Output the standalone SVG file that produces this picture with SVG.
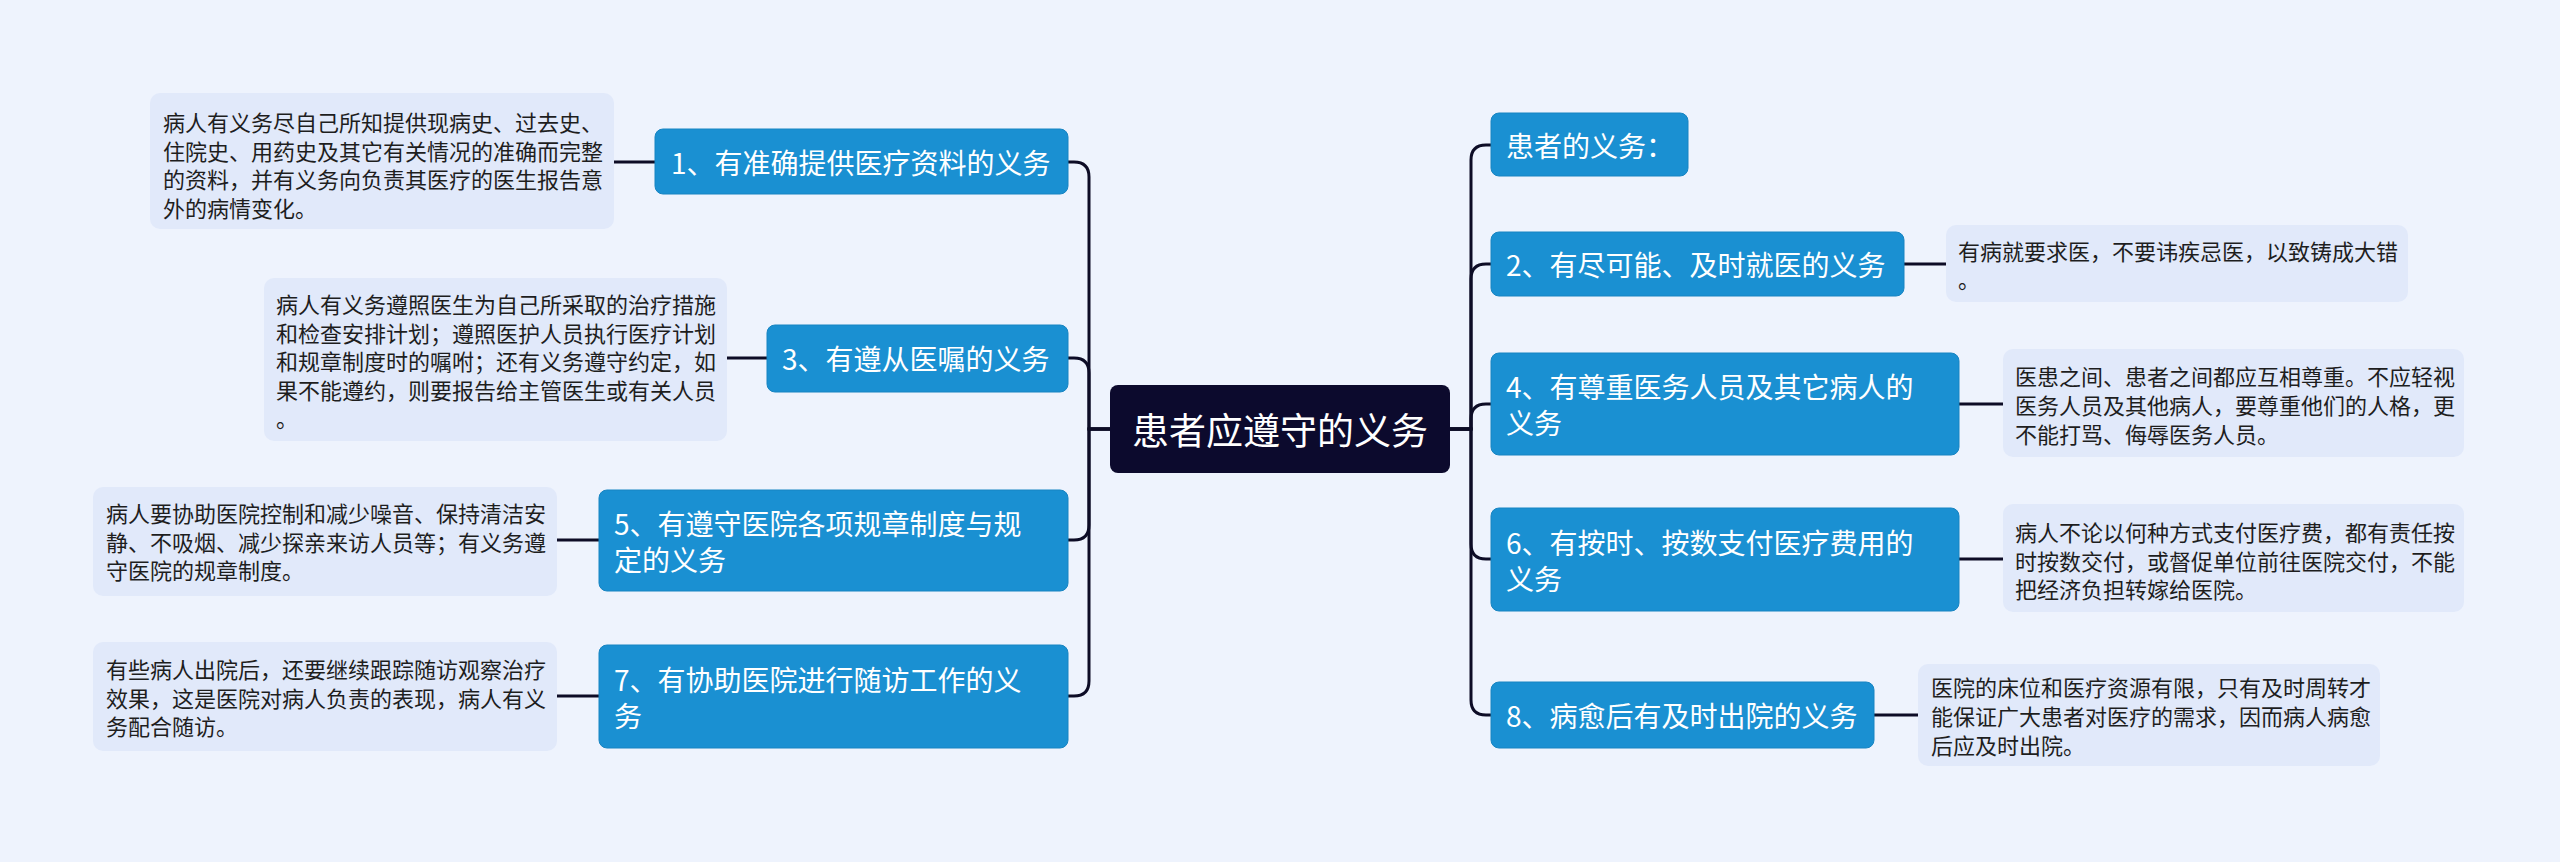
<svg xmlns="http://www.w3.org/2000/svg" width="2560" height="862" viewBox="0 0 2560 862">
<style>
.bg{fill:#eef3fd}
.node rect{fill:#1a90d2;stroke:#1784c2;stroke-width:1}
.node text{fill:#ffffff;font-family:"Microsoft YaHei","Noto Sans CJK SC",sans-serif;font-size:28px;dominant-baseline:central}
.root rect{fill:#0c0a2d}
.root text{fill:#ffffff;font-family:"Noto Sans CJK SC",sans-serif;font-size:37px;dominant-baseline:central;text-anchor:middle}
.detail rect{fill:#e1e9fa}
.detail text{fill:#1e1e1e;font-family:"Noto Sans CJK SC",sans-serif;font-size:22px;dominant-baseline:central}
.conn path{fill:none;stroke:#0d0c26;stroke-width:3;stroke-linecap:round}
</style>
<rect class="bg" x="0" y="0" width="2560" height="862"/>
<g id="connectors" class="conn">
<path d="M1110,429 H1089 V177 Q1089,162 1074,162 H1068"/>
<path d="M1110,429 H1089 V373 Q1089,358 1074,358 H1068"/>
<path d="M1110,429 H1089 V525 Q1089,540 1074,540 H1068"/>
<path d="M1110,429 H1089 V681 Q1089,696 1074,696 H1068"/>
<path d="M1450,429 H1471 V160 Q1471,145 1486,145 H1491"/>
<path d="M1450,429 H1471 V279 Q1471,264 1486,264 H1491"/>
<path d="M1450,429 H1471 V419 Q1471,404 1486,404 H1491"/>
<path d="M1450,429 H1471 V544 Q1471,559 1486,559 H1491"/>
<path d="M1450,429 H1471 V700 Q1471,715 1486,715 H1491"/>
<path d="M614,162 H655"/>
<path d="M727,358 H767"/>
<path d="M557,540 H599"/>
<path d="M557,696 H599"/>
<path d="M1904,264 H1946"/>
<path d="M1959,404 H2003"/>
<path d="M1959,559 H2003"/>
<path d="M1874,715 H1918"/>
</g>
<g id="root" class="root">
<rect x="1110" y="385" width="340" height="88" rx="8"/>
<text x="1280" y="429">患者应遵守的义务</text>
</g>
<g id="n1" class="node">
<rect x="655" y="129" width="413" height="65" rx="8"/>
<text x="671" y="162">1、有准确提供医疗资料的义务</text>
</g>
<g id="d1" class="detail">
<rect x="150" y="93" width="464" height="136" rx="10"/>
<text x="163" y="121">病人有义务尽自己所知提供现病史、过去史、</text>
<text x="163" y="150">住院史、用药史及其它有关情况的准确而完整</text>
<text x="163" y="178">的资料，并有义务向负责其医疗的医生报告意</text>
<text x="163" y="207">外的病情变化。</text>
</g>
<g id="n3" class="node">
<rect x="767" y="325" width="301" height="67" rx="8"/>
<text x="782" y="358">3、有遵从医嘱的义务</text>
</g>
<g id="d3" class="detail">
<rect x="264" y="278" width="463" height="163" rx="10"/>
<text x="276" y="303">病人有义务遵照医生为自己所采取的治疗措施</text>
<text x="276" y="331.5">和检查安排计划；遵照医护人员执行医疗计划</text>
<text x="276" y="360">和规章制度时的嘱咐；还有义务遵守约定，如</text>
<text x="276" y="388.5">果不能遵约，则要报告给主管医生或有关人员</text>
<text x="276" y="417">。</text>
</g>
<g id="n5" class="node">
<rect x="599" y="490" width="469" height="101" rx="8"/>
<text x="614" y="522.5">5、有遵守医院各项规章制度与规</text>
<text x="614" y="558.5">定的义务</text>
</g>
<g id="d5" class="detail">
<rect x="93" y="487" width="464" height="109" rx="10"/>
<text x="106" y="512">病人要协助医院控制和减少噪音、保持清洁安</text>
<text x="106" y="540.5">静、不吸烟、减少探亲来访人员等；有义务遵</text>
<text x="106" y="569">守医院的规章制度。</text>
</g>
<g id="n7" class="node">
<rect x="599" y="645" width="469" height="103" rx="8"/>
<text x="614" y="678.5">7、有协助医院进行随访工作的义</text>
<text x="614" y="714.5">务</text>
</g>
<g id="d7" class="detail">
<rect x="93" y="642" width="464" height="109" rx="10"/>
<text x="106" y="668">有些病人出院后，还要继续跟踪随访观察治疗</text>
<text x="106" y="696.5">效果，这是医院对病人负责的表现，病人有义</text>
<text x="106" y="725">务配合随访。</text>
</g>
<g id="n0" class="node">
<rect x="1491" y="113" width="197" height="63" rx="8"/>
<text x="1506" y="144.5">患者的义务：</text>
</g>
<g id="n2" class="node">
<rect x="1491" y="232" width="413" height="64" rx="8"/>
<text x="1506" y="264">2、有尽可能、及时就医的义务</text>
</g>
<g id="d2" class="detail">
<rect x="1946" y="225" width="462" height="77" rx="10"/>
<text x="1958" y="250">有病就要求医，不要讳疾忌医，以致铸成大错</text>
<text x="1958" y="278">。</text>
</g>
<g id="n4" class="node">
<rect x="1491" y="353" width="468" height="102" rx="8"/>
<text x="1506" y="386">4、有尊重医务人员及其它病人的</text>
<text x="1506" y="422">义务</text>
</g>
<g id="d4" class="detail">
<rect x="2003" y="349" width="461" height="108" rx="10"/>
<text x="2015" y="375">医患之间、患者之间都应互相尊重。不应轻视</text>
<text x="2015" y="404">医务人员及其他病人，要尊重他们的人格，更</text>
<text x="2015" y="433">不能打骂、侮辱医务人员。</text>
</g>
<g id="n6" class="node">
<rect x="1491" y="508" width="468" height="103" rx="8"/>
<text x="1506" y="541.5">6、有按时、按数支付医疗费用的</text>
<text x="1506" y="577.5">义务</text>
</g>
<g id="d6" class="detail">
<rect x="2003" y="504" width="461" height="108" rx="10"/>
<text x="2015" y="531">病人不论以何种方式支付医疗费，都有责任按</text>
<text x="2015" y="559.5">时按数交付，或督促单位前往医院交付，不能</text>
<text x="2015" y="588">把经济负担转嫁给医院。</text>
</g>
<g id="n8" class="node">
<rect x="1491" y="682" width="383" height="66" rx="8"/>
<text x="1506" y="715">8、病愈后有及时出院的义务</text>
</g>
<g id="d8" class="detail">
<rect x="1918" y="664" width="462" height="102" rx="10"/>
<text x="1931" y="686">医院的床位和医疗资源有限，只有及时周转才</text>
<text x="1931" y="715">能保证广大患者对医疗的需求，因而病人病愈</text>
<text x="1931" y="744">后应及时出院。</text>
</g>
</svg>
